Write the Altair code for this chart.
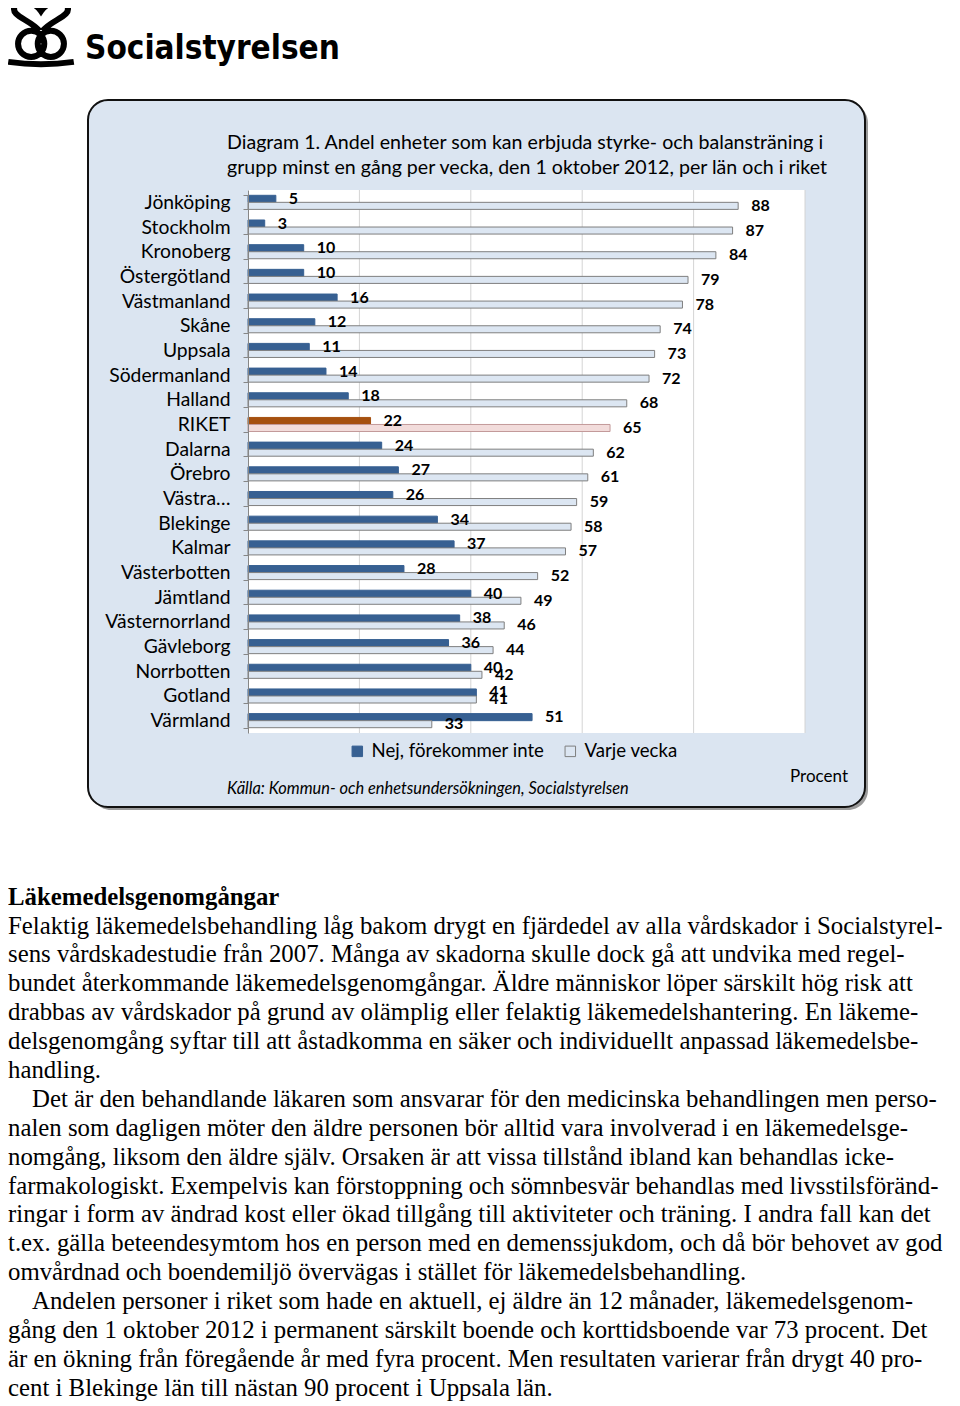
import altair as alt
import pandas as pd

# ---------------- data ----------------
lan = ["Jönköping", "Stockholm", "Kronoberg", "Östergötland", "Västmanland", "Skåne",
       "Uppsala", "Södermanland", "Halland", "RIKET", "Dalarna", "Örebro",
       "Västra Götaland", "Blekinge", "Kalmar", "Västerbotten", "Jämtland",
       "Västernorrland", "Gävleborg", "Norrbotten", "Gotland", "Värmland"]
nej = [5, 3, 10, 10, 16, 12, 11, 14, 18, 22, 24, 27, 26, 34, 37, 28, 40, 38, 36, 40, 41, 51]
varje = [88, 87, 84, 79, 78, 74, 73, 72, 68, 65, 62, 61, 59, 58, 57, 52, 49, 46, 44, 42, 41, 33]
serier = ["Nej, förekommer inte", "Varje vecka"]
gridvals = [20, 40, 60, 80, 100]

title_lines = ["Diagram 1. Andel enheter som kan erbjuda styrke- och balansträning i",
               "grupp minst en gång per vecka, den 1 oktober 2012, per län och i riket"]
source_text = "Källa: Kommun- och enhetsundersökningen, Socialstyrelsen"
unit_text = "Procent"
logo_text = "Socialstyrelsen"

heading = "Läkemedelsgenomgångar"
para1 = ["Felaktig läkemedelsbehandling låg bakom drygt en fjärdedel av alla vårdskador i Socialstyrel-",
         "sens vårdskadestudie från 2007. Många av skadorna skulle dock gå att undvika med regel-",
         "bundet återkommande läkemedelsgenomgångar. Äldre människor löper särskilt hög risk att",
         "drabbas av vårdskador på grund av olämplig eller felaktig läkemedelshantering. En läkeme-",
         "delsgenomgång syftar till att åstadkomma en säker och individuellt anpassad läkemedelsbe-",
         "handling."]
para2 = ["Det är den behandlande läkaren som ansvarar för den medicinska behandlingen men perso-",
         "nalen som dagligen möter den äldre personen bör alltid vara involverad i en läkemedelsge-",
         "nomgång, liksom den äldre själv. Orsaken är att vissa tillstånd ibland kan behandlas icke-",
         "farmakologiskt. Exempelvis kan förstoppning och sömnbesvär behandlas med livsstilsföränd-",
         "ringar i form av ändrad kost eller ökad tillgång till aktiviteter och träning. I andra fall kan det",
         "t.ex. gälla beteendesymtom hos en person med en demenssjukdom, och då bör behovet av god",
         "omvårdnad och boendemiljö övervägas i stället för läkemedelsbehandling."]
para3 = ["Andelen personer i riket som hade en aktuell, ej äldre än 12 månader, läkemedelsgenom-",
         "gång den 1 oktober 2012 i permanent särskilt boende och korttidsboende var 73 procent. Det",
         "är en ökning från föregående år med fyra procent. Men resultaten varierar från drygt 40 pro-",
         "cent i Blekinge län till nästan 90 procent i Uppsala län."]

# ---------------- table ----------------
rows = []
for l, a, b in zip(lan, nej, varje):
    for s, v in zip(serier, (a, b)):
        key = ("RIKET – " + s) if l == "RIKET" else s
        rows.append({"lan": l, "serie": s, "value": v, "key": key})
df = pd.DataFrame(rows)
keys = serier + ["RIKET – " + s for s in serier]
fills = ["#376092", "#dce6f2", "#a5500f", "#f2dcdb"]
strokes = ["#376092", "#7f7f7f", "#a5500f", "#c39a9a"]
one = pd.DataFrame({"k": [0]})

FONT = "Lato"
SERIF = "Liberation Serif"

x_scale = alt.Scale(domain=[0, 100], range=[240, 797], nice=False, zero=True)
y_scale = alt.Scale(domain=lan, range=[182, 725], paddingInner=0.43, paddingOuter=0.215)
yoff_scale = alt.Scale(domain=serier, paddingInner=0, paddingOuter=0)
y_axis = alt.Axis(title=None, offset=-240, zindex=1, labelFont=FONT, labelFontSize=19.3,
                  labelColor="#000000", labelPadding=13, tickSize=5, tickBand="extent",
                  tickColor="#868686", domainColor="#868686", grid=False, labelLimit=300,
                  labelExpr="datum.label == 'Västra Götaland' ? 'Västra…' : datum.label")

# ---------------- frame ----------------
shadow = alt.Chart(one).mark_rect(cornerRadius=20, fill="#9a9a9a").encode(
    x=alt.value(83), x2=alt.value(860), y=alt.value(95), y2=alt.value(802))
box = alt.Chart(one).mark_rect(cornerRadius=20, fill="#dbe5f1", stroke="#111111", strokeWidth=2).encode(
    x=alt.value(80), x2=alt.value(857), y=alt.value(92), y2=alt.value(799))
plotbg = alt.Chart(one).mark_rect(fill="#ffffff").encode(
    x=alt.value(240), x2=alt.value(797), y=alt.value(182), y2=alt.value(725))

grid = alt.Chart(pd.DataFrame({"g": gridvals})).mark_rule(color="#d4d4d4", strokeWidth=1).encode(
    x=alt.X("g:Q", scale=x_scale, axis=None), y=alt.value(182), y2=alt.value(725))

bars = alt.Chart(df).mark_bar(strokeWidth=1).encode(
    x=alt.X("value:Q", scale=x_scale, axis=None),
    y=alt.Y("lan:N", scale=y_scale, axis=y_axis),
    yOffset=alt.YOffset("serie:N", scale=yoff_scale),
    fill=alt.Fill("key:N", scale=alt.Scale(domain=keys, range=fills),
                  legend=alt.Legend(title=None, values=serier, orient="none", legendX=340, legendY=734,
                                    direction="horizontal", labelFont=FONT, labelFontSize=18.6,
                                    labelColor="#000000", symbolType="square", symbolSize=110,
                                    symbolStrokeColor="#7f7f7f", symbolStrokeWidth=1, labelOffset=5,
                                    columnPadding=16, padding=0, labelLimit=400)),
    stroke=alt.Stroke("key:N", scale=alt.Scale(domain=keys, range=strokes), legend=None),
)

labels = alt.Chart(df).mark_text(align="left", baseline="middle", dx=13, font=FONT, fontSize=16,
                                 fontWeight="bold", color="#000000").encode(
    x=alt.X("value:Q", scale=x_scale, axis=None),
    y=alt.Y("lan:N", scale=y_scale, axis=y_axis),
    yOffset=alt.YOffset("serie:N", scale=yoff_scale),
    text=alt.Text("value:Q"),
)

title = alt.Chart(one).mark_text(text=title_lines, align="left", baseline="alphabetic", lineHeight=25.5,
                                 font=FONT, fontSize=19.6, color="#000000").encode(
    x=alt.value(219), y=alt.value(140.5))
source = alt.Chart(one).mark_text(text=source_text, align="left", baseline="middle", font=FONT,
                                  fontSize=16.4, fontStyle="italic", color="#000000").encode(
    x=alt.value(219), y=alt.value(781))
unit = alt.Chart(one).mark_text(text=unit_text, align="right", baseline="middle", font=FONT,
                                fontSize=17, color="#000000").encode(
    x=alt.value(840), y=alt.value(769))

# ---------------- logo ----------------
logo_path = ("M -0.05 -0.1 C -0.35 -0.45 -0.95 -0.55 -0.8 -0.85 C -0.65 -1.05 -0.2 -1.0 0 -0.7 "
             "C 0.2 -1.0 0.65 -1.05 0.8 -0.85 C 0.95 -0.55 0.35 -0.45 0.05 -0.1 "
             "M 0.1 0.3 A 0.4 0.4 0 1 1 -0.7 0.3 A 0.4 0.4 0 1 1 0.1 0.3 "
             "M 0.7 0.3 A 0.4 0.4 0 1 1 -0.1 0.3 A 0.4 0.4 0 1 1 0.7 0.3 "
             "M -1 0.85 Q 0 1.0 1 0.85")
logo_sym = alt.Chart(one).mark_point(shape=logo_path, filled=False, stroke="#000000", strokeWidth=6,
                                     size=4300, opacity=1).encode(
    x=alt.value(33), y=alt.value(26))
logo = alt.Chart(one).mark_text(text=logo_text, align="left", baseline="alphabetic",
                                font="DejaVu Sans Condensed, sans-serif",
                                fontSize=33, fontWeight="bold", color="#000000").encode(
    x=alt.value(77), y=alt.value(50.5))

# ---------------- body text ----------------
LH = 28.9
B0 = 925.5  # baseline of first body line (chart coords)
BODY_SIZE = 24.8


def block(lines, first_index, indent=0, bold=False):
    return alt.Chart(one).mark_text(text=lines, align="left", baseline="alphabetic", lineHeight=LH,
                                    font=SERIF, fontSize=BODY_SIZE, fontWeight="bold" if bold else "normal",
                                    color="#000000").encode(
        x=alt.value(0 + indent), y=alt.value(B0 + first_index * LH))


body = [
    block([heading], -1, bold=True),
    block(para1, 0),
    block(para2[:1], 6, indent=24),
    block(para2[1:], 7),
    block(para3[:1], 13, indent=24),
    block(para3[1:], 14),
]

chart = alt.layer(shadow, box, plotbg, grid, bars, labels, title, source, unit, logo_sym, logo, *body).properties(
    width=944, height=1398, autosize=alt.AutoSizeParams(type="none"), padding=0,
    background="#ffffff"
).configure_view(strokeWidth=0)

chart.save("out.html", embed_options={"renderer": "svg", "actions": False})
